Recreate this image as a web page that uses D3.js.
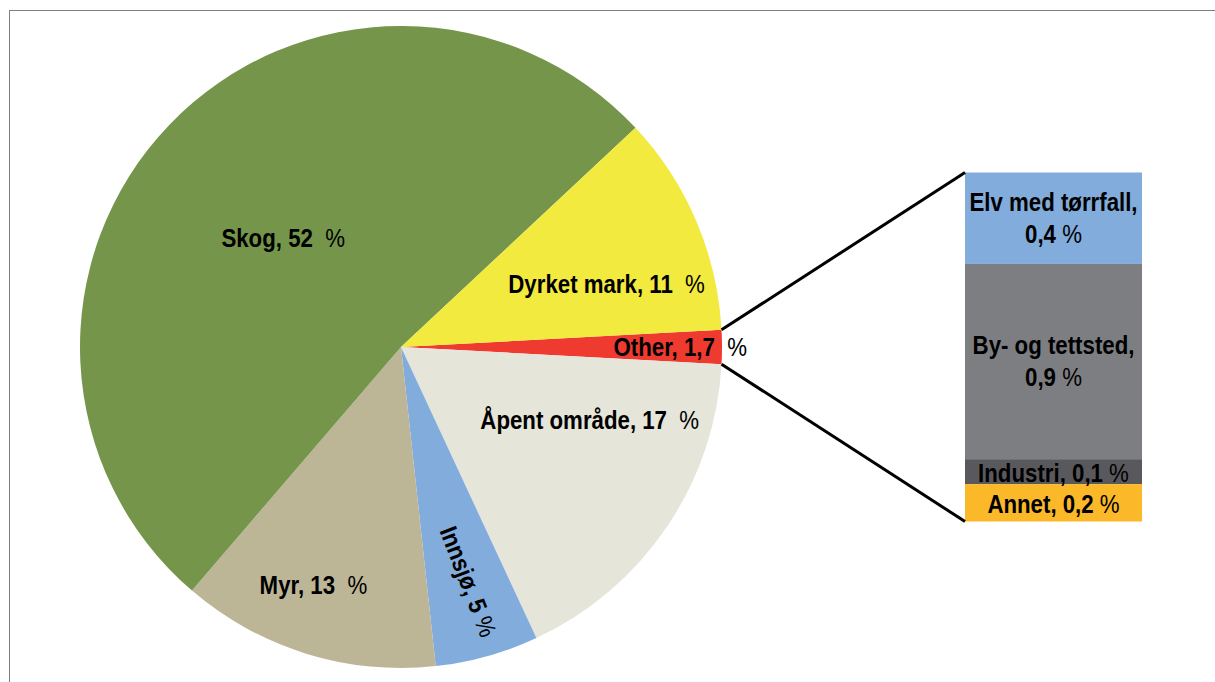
<!DOCTYPE html>
<html>
<head>
<meta charset="utf-8">
<script src="https://cdn.jsdelivr.net/npm/d3@7"></script>
<style>
  html, body { margin: 0; padding: 0; background: #fff; }
  svg { display: block; }
  text { font-family: "Liberation Sans", Arial, sans-serif; fill: #000; }
</style>
</head>
<body>
<svg id="chart" width="1215" height="682"></svg>
<script>
// pie slices, clockwise starting with the "Other" slice at 3 o'clock
const pieNames = ["Other", "Åpent område", "Innsjø", "Myr", "Skog", "Dyrket mark"];
const pieValues = [1.7, 17.2, 5.2, 13, 51.7, 11.1];

// breakdown of "Other", top to bottom
const subNames = ["Elv med tørrfall,", "By- og tettsted,", "Industri,", "Annet,"];
const subValues = [0.44, 0.94, 0.12, 0.18];

const pieColors = ["#ef3a2f", "#e5e5da", "#82acdc", "#bcb697", "#75964a", "#f2ea3f"];
const subColors = ["#82acdc", "#7d7e82", "#59595d", "#fbb829"];

const nb = d3.formatLocale({ decimal: ",", thousands: " ", grouping: [3], currency: ["", " kr"] });
const fmtPct = (v) => v < 2 ? nb.format(".1f")(v) : nb.format(".0f")(v);

const fontSize = 25;
const squeeze = 0.89; // the labels are narrower than plain Arial bold

const svg = d3.select("#chart");

// chart frame (only top and left edges are inside the picture)
svg.append("rect")
    .attr("x", 9.5).attr("y", 10.5)
    .attr("width", 1400).attr("height", 900)
    .attr("fill", "none")
    .attr("stroke", "#7b8287")
    .attr("stroke-width", 1);

const cx = 401, cy = 347, R = 321;
const total = d3.sum(pieValues);
const start = Math.PI / 2 - Math.PI * pieValues[0] / total;

const pie = d3.pie().sort(null).startAngle(start).endAngle(start + 2 * Math.PI);
const arcs = pie(pieValues);
const arc = d3.arc().innerRadius(0).outerRadius(R);

const gPie = svg.append("g").attr("transform", `translate(${cx},${cy})`);

gPie.selectAll("path")
    .data(arcs)
    .enter()
    .append("path")
    .attr("d", arc)
    .attr("fill", (d, i) => pieColors[i]);

// label placement: radius fraction and angular nudge (degrees) per slice
const labelPlace = [
    { r: 0.87, da: 0, rot: 0 },
    { r: 0.63, da: -13, rot: 0 },
    { r: 0.76, da: -0.5, rot: 69 },
    { r: 0.79, da: 3, rot: 0 },
    { r: 0.50, da: -1, rot: 0 },
    { r: 0.67, da: 6, rot: 0 }
];

const labels = gPie.selectAll("text.pie-label")
    .data(arcs)
    .enter()
    .append("text")
    .attr("class", "pie-label")
    .attr("text-anchor", "middle")
    .attr("font-size", fontSize)
    .attr("transform", (d, i) => {
        const p = labelPlace[i];
        const a = (d.startAngle + d.endAngle) / 2 + p.da * Math.PI / 180;
        const x = Math.sin(a) * R * p.r;
        const y = -Math.cos(a) * R * p.r;
        return `translate(${x},${y}) rotate(${p.rot}) scale(${squeeze},1)`;
    })
    .attr("dy", "0.36em");

labels.append("tspan")
    .attr("font-weight", "bold")
    .text((d, i) => `${pieNames[i]}, ${fmtPct(pieValues[i])}`);
labels.append("tspan")
    .attr("font-weight", "normal")
    .text((d, i) => i === 2 ? " %" : "\u00a0 %");

// stacked bar for "Other"
const barX = 965, barW = 177;
const y = d3.scaleLinear().domain([0, d3.sum(subValues)]).range([172.5, 521.5]);
const cum = d3.cumsum(subValues);
const subData = subValues.map((v, i) => ({ name: subNames[i], value: v, y0: cum[i] - v, y1: cum[i] }));

const gBar = svg.append("g");
gBar.selectAll("rect")
    .data(subData)
    .enter()
    .append("rect")
    .attr("x", barX)
    .attr("width", barW)
    .attr("y", (d) => y(d.y0))
    .attr("height", (d) => y(d.y1) - y(d.y0))
    .attr("fill", (d, i) => subColors[i]);

const barLabels = gBar.selectAll("text")
    .data(subData)
    .enter()
    .append("text")
    .attr("text-anchor", "middle")
    .attr("font-size", fontSize)
    .attr("transform", (d) => `translate(${barX + barW / 2},${(y(d.y0) + y(d.y1)) / 2}) scale(${squeeze},1)`);

barLabels.each(function (d) {
    const t = d3.select(this);
    const twoLines = y(d.y1) - y(d.y0) > 60;
    if (twoLines) {
        t.append("tspan").attr("x", 0).attr("dy", "-0.3em")
            .attr("font-weight", "bold").text(d.name);
        t.append("tspan").attr("x", 0).attr("dy", "1.28em")
            .attr("font-weight", "bold").text(fmtPct(d.value));
        t.append("tspan").attr("font-weight", "normal").text(" %");
    } else {
        t.append("tspan").attr("dy", "0.4em")
            .attr("font-weight", "bold").text(`${d.name} ${fmtPct(d.value)}`);
        t.append("tspan").attr("font-weight", "normal").text(" %");
    }
});

// connector lines from the "Other" slice to the bar
const o = arcs[0];
const edge = (a) => [cx + Math.sin(a) * R, cy - Math.cos(a) * R];
const lines = [
    [edge(o.startAngle), [barX, y(0)]],
    [edge(o.endAngle), [barX, y(d3.sum(subValues))]]
];
svg.selectAll("line.connector")
    .data(lines)
    .enter()
    .append("line")
    .attr("class", "connector")
    .attr("x1", (d) => d[0][0]).attr("y1", (d) => d[0][1])
    .attr("x2", (d) => d[1][0]).attr("y2", (d) => d[1][1])
    .attr("stroke", "#000")
    .attr("stroke-width", 3);
</script>
</body>
</html>
